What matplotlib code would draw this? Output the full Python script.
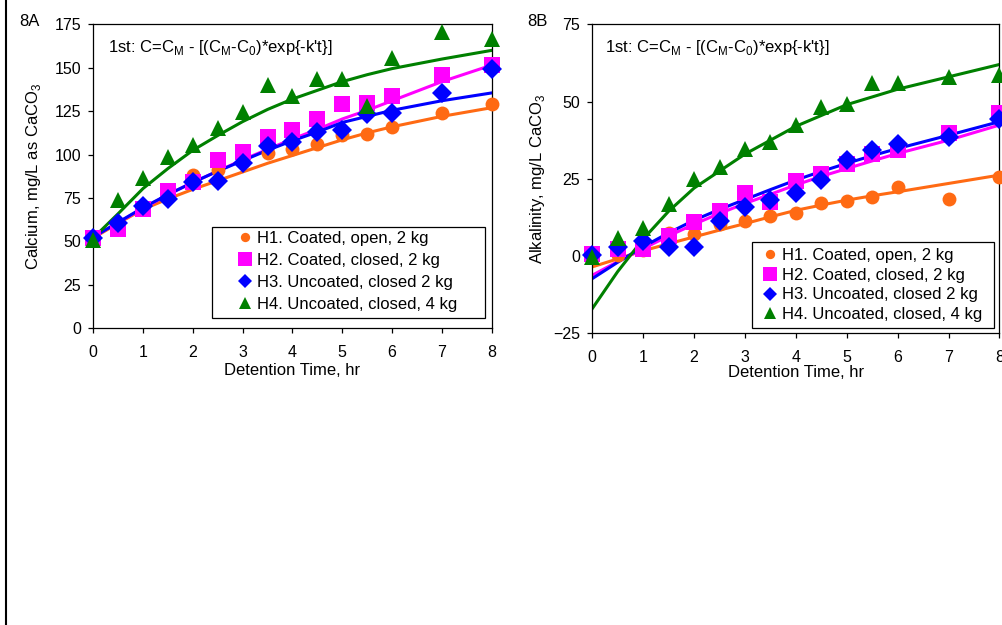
import matplotlib
matplotlib.use("Agg")
import matplotlib.pyplot as plt
from matplotlib.lines import Line2D
from matplotlib.patches import Rectangle

plt.rcParams["font.family"] = ["Liberation Sans", "DejaVu Sans"]
plt.rcParams["mathtext.fontset"] = "custom"
plt.rcParams["mathtext.rm"] = "Liberation Sans"

# detention time, hr
hours = [0, 0.5, 1, 1.5, 2, 2.5, 3, 3.5, 4, 4.5, 5, 5.5, 6, 7, 8]

series_names = ["H1. Coated, open, 2 kg", "H2. Coated, closed, 2 kg",
                "H3. Uncoated, closed 2 kg", "H4. Uncoated, closed, 4 kg"]

# 8A calcium, mg/L as CaCO3 (measured)
ca_h1 = [52, 58, 69, 79, 88, 91, 96, 101, 103, 106, 111, 112, 116, 124, 129]
ca_h2 = [52, 57, 68.5, 79, 84, 97, 101.5, 110, 114, 120.5, 129, 129.5, 133.5, 146, 151.5]
ca_h3 = [52, 60.5, 70.5, 74.5, 84.5, 85, 95, 105, 107, 113, 114, 123.5, 124, 135.5, 149]
ca_h4 = [51, 74, 86.5, 98.5, 105.5, 115.5, 124.5, 140, 133.5, 143.5, 143.5, 128, 155.5, 170.5, 166.5]

# 8A first-order fit curves
ca_fit_h1 = [52, 60.5, 68.5, 74.5, 80, 85, 90, 95, 99.5, 104, 108.5, 112.5, 116, 122, 127]
ca_fit_h2 = [52.5, 61, 69, 77, 84, 90.5, 97, 103, 109, 114.5, 120.5, 125.5, 131, 142, 151.5]
ca_fit_h3 = [52.5, 61, 69.5, 77, 84, 90.5, 96.5, 102.5, 108, 113, 118.5, 122, 125.5, 131, 135.5]
ca_fit_h4 = [52, 66, 80.5, 92, 102.5, 111, 119, 126, 132, 137, 142, 146, 149.5, 155, 160]

# 8B alkalinity, mg/L CaCO3 (measured)
alk_h1 = [0.3, 0.3, 2.1, 7.6, 7.3, 10.5, 11.4, 12.9, 14, 17.2, 17.9, 19, 22.2, 18.4, 25.6]
alk_h2 = [0.6, 2.4, 2.4, 6.4, 11.1, 14.6, 20.5, 17.5, 24.2, 26.5, 29.8, 32.9, 34.3, 39.9, 46.2]
alk_h3 = [0.3, 3, 5, 3, 3, 11.3, 15.9, 18.1, 20.5, 24.6, 31, 34.3, 36.2, 38.6, 44.3]
alk_h4 = [-0.3, 6, 9.1, 16.8, 24.9, 28.7, 34.8, 37, 42.4, 48.3, 49.2, 56.1, 56.1, 58, 58.6]

# 8B first-order fit curves
alk_fit_h1 = [-3.5, -0.9, 1.7, 4, 6.2, 8.4, 10.5, 12.7, 14.8, 16.5, 18.1, 19.5, 20.8, 23.5, 26.2]
alk_fit_h2 = [-6.2, -1.8, 2.4, 6.5, 10.3, 13.8, 17, 20, 23, 25.8, 28.3, 30.8, 33.2, 37.5, 42.4]
alk_fit_h3 = [-7.3, -2, 3, 7.5, 11.6, 15.1, 18.3, 21.5, 24.6, 27.4, 30, 32.5, 34.8, 39.1, 43.5]
alk_fit_h4 = [-17, -5, 5.5, 14.5, 22, 27.5, 33, 37.5, 42, 45.5, 49, 51.5, 54, 58, 62]

colors = ["#FF6A13", "#FF00FF", "#0000FF", "#008000"]
markers = ["o", "s", "D", "^"]
plot_ms = [10, 11, 10.5, 12]
legend_ms = [6.7, 10.5, 7.2, 8]

equation = "1st: C=C$_\\mathregular{M}$ - [(C$_\\mathregular{M}$-C$_\\mathregular{0}$)*exp{-k't}]"


def draw_panel(ax, data, fits, ylim, yticks, ylabel, ylabel_x, xlabel_y,
               eq_x, leg_anchor, leg_spacing, leg_htp, rect):
    for fit, c in zip(fits, colors):
        ax.plot(hours, fit, color=c, lw=2.2, zorder=2)
    for i, (vals, c, m, ms) in enumerate(zip(data, colors, markers, plot_ms)):
        ax.plot(hours, vals, linestyle="none", marker=m, ms=ms, color=c,
                markeredgewidth=0, clip_on=False, zorder=3 + i)

    ax.set_xlim(0, 8)
    ax.set_ylim(*ylim)
    ax.set_xticks(range(0, 9))
    ax.set_yticks(yticks)
    ax.tick_params(direction="out", length=3.6, width=0.9, labelsize=11.5)
    ax.tick_params(axis="x", pad=8.5)
    ax.tick_params(axis="y", pad=5.3)
    for s in ax.spines.values():
        s.set_linewidth(0.9)

    ax.set_xlabel("Detention Time, hr", fontsize=12)
    ax.xaxis.set_label_coords(0.5, xlabel_y)
    ax.set_ylabel(ylabel, fontsize=12)
    ax.yaxis.set_label_coords(ylabel_x, 0.5)

    ax.text(eq_x, 0.91, equation, transform=ax.transAxes,
            fontsize=12, va="baseline", ha="left")

    handles = [Line2D([], [], linestyle="none", marker=m, ms=ms, color=c, markeredgewidth=0)
               for m, ms, c in zip(markers, legend_ms, colors)]
    leg = ax.legend(handles, series_names, loc="upper left", bbox_to_anchor=leg_anchor,
                    frameon=False, fontsize=12, borderpad=0, borderaxespad=0,
                    handlelength=1.0, handletextpad=leg_htp, labelspacing=leg_spacing)
    leg.set_zorder(11)
    ax.add_patch(Rectangle(rect[:2], rect[2], rect[3], transform=ax.transAxes,
                           facecolor="white", edgecolor="black", lw=0.9, zorder=9.5))


fig = plt.figure(figsize=(10.03, 6.25), dpi=100)
ax_a = fig.add_axes([0.0930, 0.4747, 0.3972, 0.4864])
ax_b = fig.add_axes([0.5905, 0.4667, 0.4060, 0.4944])

draw_panel(ax_a, [ca_h1, ca_h2, ca_h3, ca_h4],
           [ca_fit_h1, ca_fit_h2, ca_fit_h3, ca_fit_h4],
           (0, 175), range(0, 176, 25), "Calcium, mg/L as CaCO$_3$",
           -0.127, -0.114, 0.037, (0.3597, 0.32), 0.41, 0.24,
           (0.297, 0.0329, 0.686, 0.301))
draw_panel(ax_b, [alk_h1, alk_h2, alk_h3, alk_h4],
           [alk_fit_h1, alk_fit_h2, alk_fit_h3, alk_fit_h4],
           (-25, 75), range(-25, 76, 25), "Alkalinity, mg/L CaCO$_3$",
           -0.112, -0.104, 0.031, (0.416, 0.2767), 0.29, 0.2,
           (0.3915, 0.0162, 0.5958, 0.2803))

fig.text(19 / 1003, 1 - 21 / 625, "8A", fontsize=12, ha="left", va="center")
fig.text(527 / 1003, 1 - 21 / 625, "8B", fontsize=12, ha="left", va="center")

fig.add_artist(Line2D([6 / 1003, 6 / 1003], [0, 1], transform=fig.transFigure,
                      color="black", lw=1.5))

fig.savefig("out.png", dpi=100)
